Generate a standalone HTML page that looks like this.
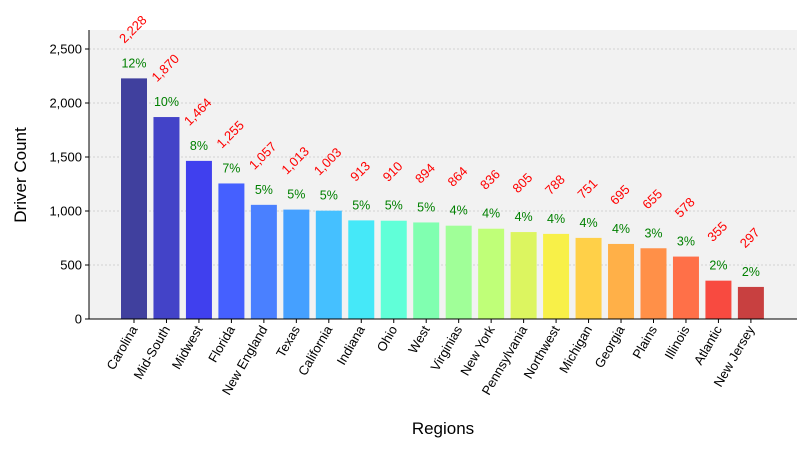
<!DOCTYPE html>
<html><head><meta charset="utf-8"><style>
body{margin:0;background:#fff;font-family:"Liberation Sans",sans-serif}
</style></head><body>
<svg id="chart" width="810" height="450" xmlns="http://www.w3.org/2000/svg" font-family="Liberation Sans, sans-serif"></svg>
<script>
const categories=["Carolina","Mid-South","Midwest","Florida","New England","Texas","California","Indiana","Ohio","West","Virginias","New York","Pennsylvania","Northwest","Michigan","Georgia","Plains","Illinois","Atlantic","New Jersey"];
const values=[2228,1870,1464,1255,1057,1013,1003,913,910,894,864,836,805,788,751,695,655,578,355,297];
const yTicks=[0,500,1000,1500,2000,2500];
const yTickLabels=["0","500","1,000","1,500","2,000","2,500"];
const colors=["#40409e","#4343c8","#4040ee","#4560ff","#4a80ff","#45a0ff","#45c0ff","#45e8f8","#60ffd8","#80ffb0","#a0ff98","#bfff78","#dcf560","#f8f048","#ffd048","#ffb048","#ff9048","#ff7048","#f84a40","#c84040"];
const svg=document.getElementById('chart');const NS='http://www.w3.org/2000/svg';
const L=89,R=797,T=30,B=319;
const xMin=-1.386,xMax=20.42;
const x=i=>L+(i-xMin)/(xMax-xMin)*(R-L);
const y=v=>B-v*0.108;
function mk(tag,attrs,parent){const e=document.createElementNS(NS,tag);for(const k in attrs)e.setAttribute(k,attrs[k]);(parent||svg).appendChild(e);return e;}
const bg=mk('rect',{x:L,y:T,width:R-L,height:B-T,fill:'#f2f2f2'});


yTicks.forEach((t,k)=>{
 const g=mk('line',{x1:L,x2:R,y1:y(t),y2:y(t),stroke:'#c8c8c8','stroke-dasharray':'2,2','stroke-width':0.8});
 
 
 const tk=mk('line',{x1:L-4,x2:L,y1:y(t),y2:y(t),stroke:'#000'});
 
 
 const tl=mk('text',{x:L-7,y:y(t)+4.5,'text-anchor':'end','font-size':13});
 tl.textContent=yTickLabels[k];
 
 
});
const total=values.reduce((a,b)=>a+b,0);
values.forEach((v,i)=>{
 const cx=x(i),w=26;
 const b=mk('rect',{x:cx-w/2,y:y(v),width:w,height:B-y(v),fill:colors[i]});
 
 
 const p=mk('text',{x:cx,y:y(v)-11,'text-anchor':'middle','font-size':12.5,fill:'#008000'});
 p.textContent=Math.round(v/total*100)+'%';
 
 
 const vy=y(v)-46;
 const vl=mk('text',{x:cx+2,y:vy,'text-anchor':'middle','font-size':13,fill:'#ff0000',transform:`rotate(-45 ${cx+2} ${vy})`});
 vl.textContent=v.toLocaleString('en-US');
 
 
 const tk=mk('line',{x1:cx,x2:cx,y1:B,y2:B+4,stroke:'#000'});
 
 
 const xl=mk('text',{x:cx+4,y:B+10,'text-anchor':'end','font-size':13,transform:`rotate(-60 ${cx+4} ${B+10})`});
 xl.textContent=categories[i];
 
 
});
const ax1=mk('line',{x1:L,x2:L,y1:T,y2:B,stroke:'#000'});


const ax2=mk('line',{x1:L,x2:R,y1:B,y2:B,stroke:'#000'});


const yt=mk('text',{x:26,y:175,'text-anchor':'middle','font-size':17,transform:'rotate(-90 26 175)'});
yt.textContent='Driver Count';


const xt=mk('text',{x:443,y:434,'text-anchor':'middle','font-size':17});
xt.textContent='Regions';


</script>
</body></html>
